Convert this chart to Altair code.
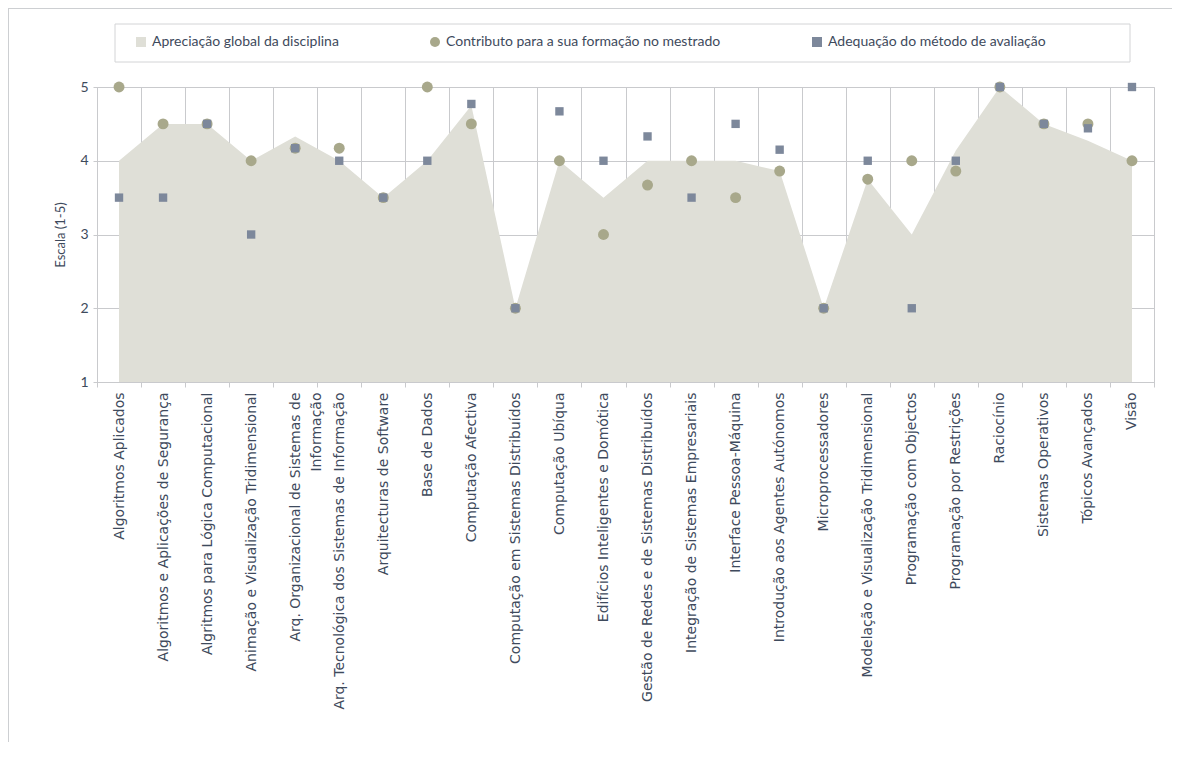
import altair as alt
import pandas as pd

courses = [
    "Algoritmos Aplicados",
    "Algoritmos e Aplicações de Segurança",
    "Algritmos para Lógica Computacional",
    "Animação e Visualização Tridimensional",
    "Arq. Organizacional de Sistemas de|Informação",
    "Arq. Tecnológica dos Sistemas de Informação",
    "Arquitecturas de Software",
    "Base de Dados",
    "Computação Afectiva",
    "Computação em Sistemas Distribuídos",
    "Computação Ubíqua",
    "Edifícios Inteligentes e Domótica",
    "Gestão de Redes e de Sistemas Distribuídos",
    "Integração de Sistemas Empresariais",
    "Interface Pessoa-Máquina",
    "Introdução aos Agentes Autónomos",
    "Microprocessadores",
    "Modelação e Visualização Tridimensional",
    "Programação com Objectos",
    "Programação por Restrições",
    "Raciocínio",
    "Sistemas Operativos",
    "Tópicos Avançados",
    "Visão",
]
apreciacao = [4.0, 4.5, 4.5, 4.0, 4.33, 4.0, 3.5, 4.0, 4.75, 2.0, 4.0, 3.5,
              4.0, 4.0, 4.0, 3.86, 2.0, 3.75, 3.0, 4.14, 5.0, 4.5, 4.27, 4.0]
contributo = [5.0, 4.5, 4.5, 4.0, 4.17, 4.17, 3.5, 5.0, 4.5, 2.0, 4.0, 3.0,
              3.67, 4.0, 3.5, 3.86, 2.0, 3.75, 4.0, 3.86, 5.0, 4.5, 4.5, 4.0]
adequacao = [3.5, 3.5, 4.5, 3.0, 4.17, 4.0, 3.5, 4.0, 4.77, 2.0, 4.67, 4.0,
             4.33, 3.5, 4.5, 4.15, 2.0, 4.0, 2.0, 4.0, 5.0, 4.5, 4.44, 5.0]

S_A = "Apreciação global da disciplina"
S_C = "Contributo para a sua formação no mestrado"
S_M = "Adequação do método de avaliação"
series = [S_A, S_C, S_M]
colors = ["#dfdfd7", "#a8a88b", "#7d889b"]
shapes = ["square", "circle", "square"]

rows = []
for c, a, b, m in zip(courses, apreciacao, contributo, adequacao):
    rows.append({"curso": c, "serie": S_A, "valor": a})
    rows.append({"curso": c, "serie": S_C, "valor": b})
    rows.append({"curso": c, "serie": S_M, "valor": m})
df = pd.DataFrame(rows)

FONT = "Lato"
AXFONT = "DejaVu Sans"
TEXT = "#3e4a5c"
GRID = "#c9cacd"
FRAME = "#cdcfd2"

x = alt.X(
    "curso:N", sort=courses, title=None, bandPosition=0.5,
    scale=alt.Scale(type="band", paddingInner=0, paddingOuter=0),
    axis=alt.Axis(labelAngle=-90, labelExpr="split(datum.label, '|')",
                  tickBand="extent", grid=True, gridColor=GRID, domainColor=GRID,
                  tickColor=GRID, tickSize=5, labelPadding=5, labelFontSize=14,
                  labelColor=TEXT, labelFont=AXFONT, labelLimit=400,
                  labelLineHeight=21),
)
y = alt.Y(
    "valor:Q",
    scale=alt.Scale(domain=[1, 5], nice=False, zero=False),
    axis=alt.Axis(values=[1, 2, 3, 4, 5], title="Escala (1-5)", grid=True,
                  gridColor=GRID, domainColor=GRID, tickColor=GRID, tickSize=4,
                  labelFontSize=14, labelColor=TEXT, labelFont=FONT, labelPadding=5,
                  titleFont=FONT, titleFontSize=13, titleColor=TEXT,
                  titleFontWeight="normal", titlePadding=12),
)
legend = alt.Legend(title=None, orient="none", legendX=26, legendY=-63,
                    direction="horizontal", padding=11,
                    columnPadding=89, labelFontSize=14, labelFont=FONT,
                    labelColor=TEXT, symbolSize=100, symbolStrokeWidth=0,
                    labelOffset=4, labelLimit=500)
color = alt.Color("serie:N", scale=alt.Scale(domain=series, range=colors), legend=legend)
shape = alt.Shape("serie:N", scale=alt.Scale(domain=series, range=shapes), legend=legend)

base = alt.Chart(df)

area = base.transform_filter(alt.datum.serie == S_A).mark_area(opacity=1).encode(
    x=x, y=y, y2=alt.datum(1), color=color)
circles = base.transform_filter(alt.datum.serie == S_C).mark_point(
    filled=True, opacity=1, size=120).encode(x=x, y=y, color=color, shape=shape)
squares = base.transform_filter(alt.datum.serie == S_M).mark_point(
    filled=True, opacity=1, size=70).encode(x=x, y=y, color=color, shape=shape)

one = alt.Data(values=[{"k": 1}])
frame_left = alt.Chart(one).mark_rule(color=FRAME, strokeWidth=2).encode(
    x=alt.value(-89), y=alt.value(-79), y2=alt.value(670))
frame_top = alt.Chart(one).mark_rule(color=FRAME, strokeWidth=2).encode(
    y=alt.value(-79), x=alt.value(-89), x2=alt.value(1080))
legend_box = alt.Chart(one).mark_rect(
    fill="white", stroke="#d3d4d6", strokeWidth=1).encode(
    x=alt.value(18), x2=alt.value(1033), y=alt.value(-63), y2=alt.value(-25))

chart = alt.layer(frame_left, frame_top, legend_box, area, circles, squares).properties(
    width=1057, height=295,
    autosize=alt.AutoSizeParams(type="none"),
    padding={"left": 89, "top": 79, "right": 18, "bottom": 360},
).configure_view(stroke=None).configure(background="white")

chart.save("out.html", embed_options={"renderer": "svg", "actions": False})
